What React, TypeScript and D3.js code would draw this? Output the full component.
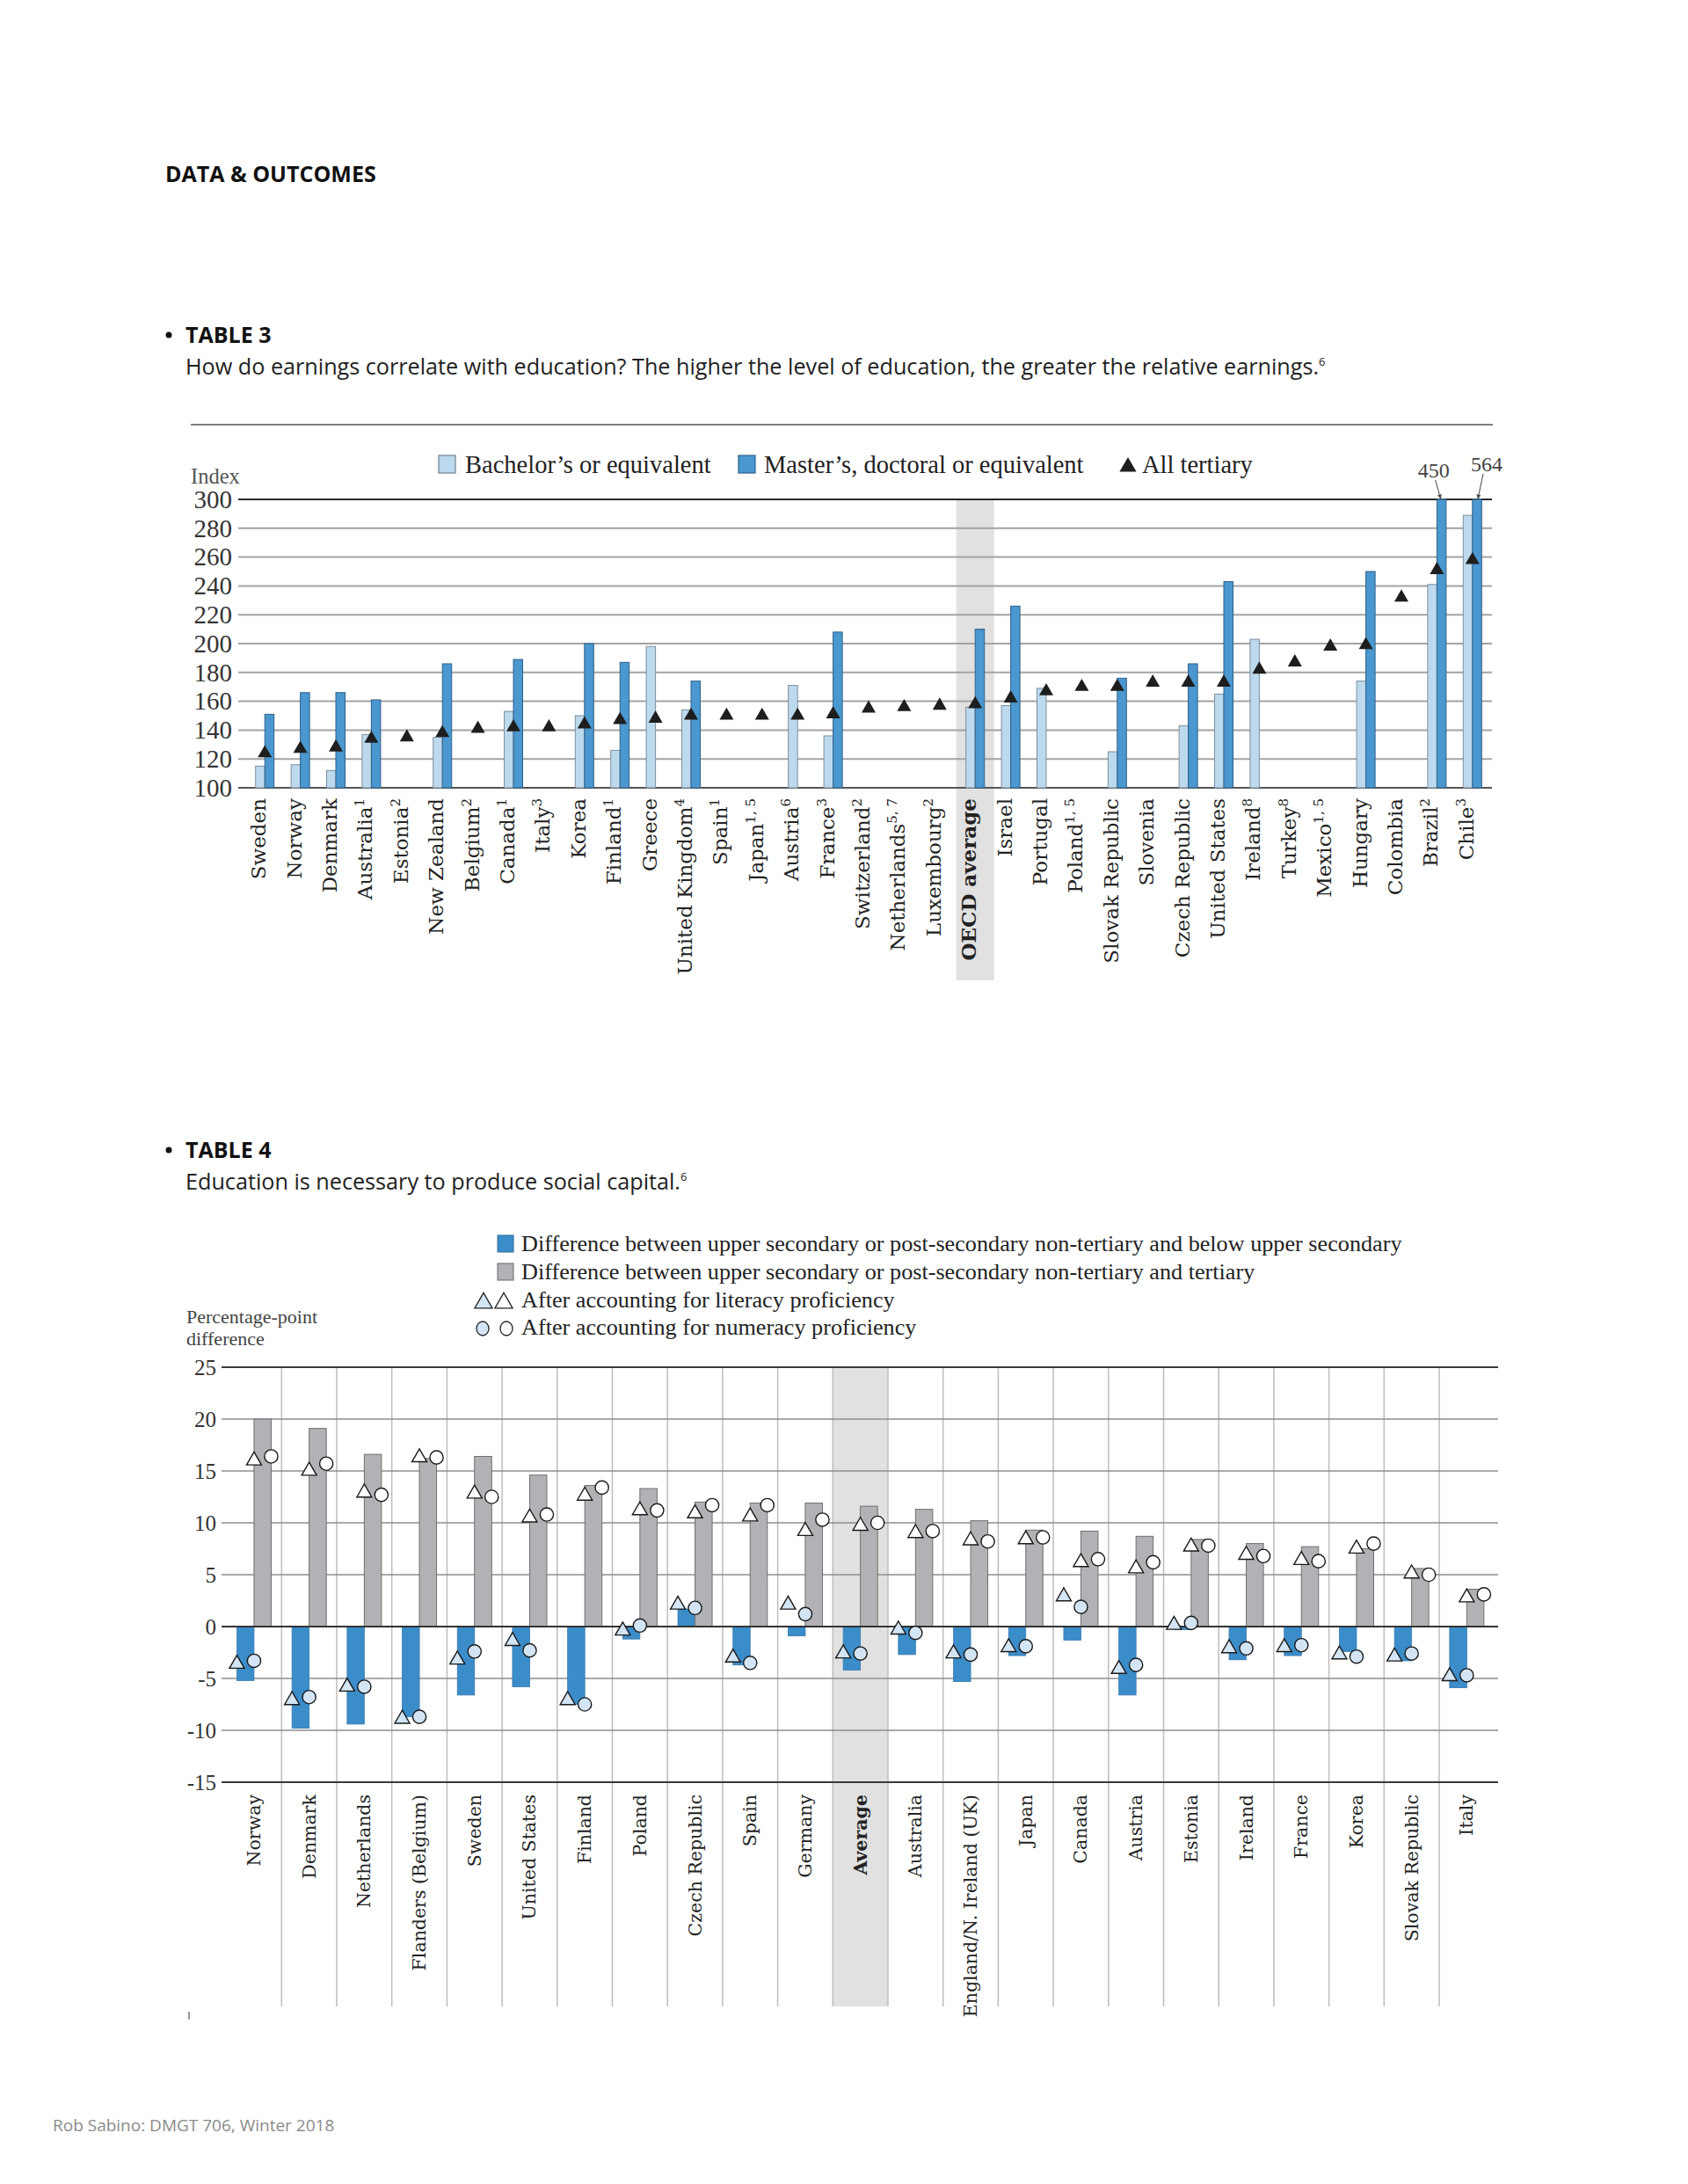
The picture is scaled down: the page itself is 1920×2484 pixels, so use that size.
import * as d3 from "d3";

// ---- Table 3: relative earnings by education level (index, upper secondary = 100)
const T3_COUNTRIES = [
  "Sweden", "Norway", "Denmark", "Australia", "Estonia", "New Zealand", "Belgium",
  "Canada", "Italy", "Korea", "Finland", "Greece", "United Kingdom", "Spain", "Japan",
  "Austria", "France", "Switzerland", "Netherlands", "Luxembourg", "OECD average",
  "Israel", "Portugal", "Poland", "Slovak Republic", "Slovenia", "Czech Republic",
  "United States", "Ireland", "Turkey", "Mexico", "Hungary", "Colombia", "Brazil", "Chile",
];
const T3_NOTES = [
  "", "", "", "1", "2", "", "2", "1", "3", "", "1", "", "4", "1", "1, 5", "6", "3", "2",
  "5, 7", "2", "", "", "", "1, 5", "", "", "", "", "8", "8", "1, 5", "", "", "2", "3",
];
const T3_BACHELOR = [
  115, 116, 112, 137, null, 135, null, 153, null, 150, 126, 198, 154, null, null, 171,
  136, null, null, null, 156, 157, 169, null, 125, null, 143, 165, 203, null, null, 174,
  null, 241, 289,
];
const T3_MASTER = [
  151, 166, 166, 161, null, 186, null, 189, null, 200, 187, null, 174, null, null, null,
  208, null, null, null, 210, 226, null, null, 176, null, 186, 243, null, null, null, 250,
  null, 450, 564,
];
const T3_ALL = [
  124, 127, 128, 134, 135, 138, 141, 142, 142, 144, 147, 148, 150, 150, 150, 150, 151,
  155, 156, 157, 158, 162, 167, 170, 170, 173, 173, 173, 182, 187, 198, 199, 232, 251, 258,
];
const T3_HIGHLIGHT = "OECD average";

// ---- Table 4: percentage-point differences in social outcomes
const T4_COUNTRIES = [
  "Norway", "Denmark", "Netherlands", "Flanders (Belgium)", "Sweden", "United States",
  "Finland", "Poland", "Czech Republic", "Spain", "Germany", "Average", "Australia",
  "England/N. Ireland (UK)", "Japan", "Canada", "Austria", "Estonia", "Ireland", "France",
  "Korea", "Slovak Republic", "Italy",
];
const T4_BELOW = [
  -5.2, -9.8, -9.4, -8.7, -6.6, -5.8, -7.5, -1.2, 1.7, -3.7, -0.9, -4.2, -2.7, -5.3, -2.8,
  -1.3, -6.6, -0.3, -3.2, -2.8, -2.4, -3.3, -5.9,
];
const T4_TERTIARY = [
  20.0, 19.1, 16.6, 16.2, 16.4, 14.6, 13.6, 13.3, 12.0, 11.9, 11.9, 11.6, 11.3, 10.2, 9.3,
  9.2, 8.7, 8.4, 8.0, 7.7, 7.5, 5.6, 3.6,
];
const T4_BELOW_LIT = [
  -3.6, -7.1, -5.8, -8.9, -3.2, -1.4, -7.1, -0.4, 2.1, -3.0, 2.1, -2.6, -0.3, -2.6, -2.0,
  2.9, -4.1, 0.15, -2.1, -2.0, -2.7, -2.9, -4.8,
];
const T4_BELOW_NUM = [
  -3.3, -6.8, -5.8, -8.7, -2.4, -2.3, -7.5, 0.1, 1.8, -3.5, 1.2, -2.6, -0.6, -2.7, -1.9,
  1.9, -3.7, 0.35, -2.1, -1.8, -2.9, -2.6, -4.7,
];
const T4_TERT_LIT = [
  16.0, 15.0, 12.9, 16.3, 12.8, 10.5, 12.6, 11.2, 10.9, 10.6, 9.2, 9.7, 9.0, 8.3, 8.4, 6.2,
  5.6, 7.7, 6.9, 6.4, 7.5, 5.1, 2.8,
];
const T4_TERT_NUM = [
  16.4, 15.7, 12.7, 16.3, 12.5, 10.8, 13.4, 11.2, 11.7, 11.7, 10.3, 10.0, 9.2, 8.2, 8.6, 6.5,
  6.2, 7.8, 6.8, 6.3, 8.0, 5.0, 3.1,
];
const T4_HIGHLIGHT = "Average";

const SANS = "'Open Sans', 'Noto Sans', sans-serif";
const SERIF = "'Liberation Serif', serif";
const LABEL_SERIF = "'DejaVu Serif', serif";

const BACH = "#bdd9ee";
const MAST = "#4b97cf";
const BLUE4 = "#3b8dca";
const GRAY4 = "#b2b2b6";
const MARK_LIGHT = "#d3e5f4";

function Heading({ y, label, sub }: { y: number; label: string; sub: string }) {
  return (
    <g>
      <circle cx={192} cy={y - 9} r={3.5} fill="#111" />
      <text x={211} y={y} fontFamily={SANS} fontWeight={700} fontSize={25} fill="#111">
        {label}
      </text>
      <text x={211} y={y + 36} fontFamily={SANS} fontSize={25.2} fill="#222">
        {sub}
        <tspan fontSize={13} dy={-10}>6</tspan>
      </text>
    </g>
  );
}

function Table3() {
  const x = d3
    .scaleBand<string>()
    .domain(T3_COUNTRIES)
    .range([281, 1695]);
  const y = d3.scaleLinear().domain([100, 300]).range([896, 568]);
  const cx = (c: string) => (x(c) ?? 0) + x.bandwidth() / 2;
  const bw = 10.5;
  const ticks = d3.range(100, 301, 20);
  const tri = d3.symbol(d3.symbolTriangle, 111)() ?? "";
  const legendTri = d3.symbol(d3.symbolTriangle, 160)() ?? "";
  const top = y.domain()[1];
  const capped = (v: number) => Math.min(v, top);

  return (
    <g>
      <line x1={217} x2={1698} y1={483} y2={483} stroke="#555" strokeWidth={1.5} />

      {/* legend */}
      <g fontFamily={SERIF} fontSize={28.5} fill="#222">
        <rect x={499} y={518} width={19} height={20} fill={BACH} stroke="#6f8192" strokeWidth={1.2} />
        <text x={529} y={538}>Bachelor’s or equivalent</text>
        <rect x={840} y={518} width={19} height={20} fill={MAST} stroke="#2f6189" strokeWidth={1.2} />
        <text x={869} y={538}>Master’s, doctoral or equivalent</text>
        <path d={legendTri} transform="translate(1283,531)" fill="#1e1e1e" />
        <text x={1299} y={538}>All tertiary</text>
      </g>

      <text x={217} y={550} fontFamily={SERIF} fontSize={24.5} fill="#555">Index</text>

      <rect
        x={cx(T3_HIGHLIGHT) - 21.5}
        y={y(300)}
        width={43}
        height={1115 - y(300)}
        fill="#e1e1e1"
      />

      {ticks.map((t) => (
        <g key={t}>
          <line
            x1={271}
            x2={1697}
            y1={y(t)}
            y2={y(t)}
            stroke={t === 300 ? "#2a2a2a" : t === 100 ? "#555" : "#a3a3a3"}
            strokeWidth={2}
          />
          <text
            x={264}
            y={y(t)}
            dy="0.34em"
            textAnchor="end"
            fontFamily={SERIF}
            fontSize={29}
            fill="#333"
          >
            {t}
          </text>
        </g>
      ))}

      {T3_COUNTRIES.map((c, i) => {
        const b = T3_BACHELOR[i];
        const m = T3_MASTER[i];
        return (
          <g key={c}>
            {b != null && (
              <rect
                x={cx(c) - bw}
                y={y(capped(b))}
                width={bw}
                height={y(100) - y(capped(b))}
                fill={BACH}
                stroke="#7e8e9c"
                strokeWidth={1}
              />
            )}
            {m != null && (
              <rect
                x={cx(c)}
                y={y(capped(m))}
                width={bw}
                height={y(100) - y(capped(m))}
                fill={MAST}
                stroke="#2f6189"
                strokeWidth={1}
              />
            )}
          </g>
        );
      })}

      {T3_COUNTRIES.map((c, i) => (
        <path
          key={c}
          d={tri}
          transform={`translate(${cx(c)},${y(T3_ALL[i])})`}
          fill="#1e1e1e"
        />
      ))}

      {/* values beyond the axis */}
      <defs>
        <marker id="arr" viewBox="0 0 10 10" refX={9} refY={5} markerWidth={5} markerHeight={5} orient="auto">
          <path d="M0,0 L10,5 L0,10 z" fill="#444" />
        </marker>
      </defs>
      {T3_COUNTRIES.map((c, i) => {
        const m = T3_MASTER[i];
        if (m == null || m <= top) return null;
        const bx = cx(c) + bw / 2;
        const tx = c === "Chile" ? bx + 11 : bx - 9;
        return (
          <g key={c}>
            <text
              x={tx}
              y={c === "Chile" ? 536 : 543}
              textAnchor="middle"
              fontFamily={SERIF}
              fontSize={24}
              fill="#444"
            >
              {m}
            </text>
            <line
              x1={c === "Chile" ? tx - 4 : tx + 2}
              y1={c === "Chile" ? 539 : 546}
              x2={bx + (c === "Chile" ? 1 : -1)}
              y2={y(top) - 1}
              stroke="#444"
              strokeWidth={1}
              markerEnd="url(#arr)"
            />
          </g>
        );
      })}

      {T3_COUNTRIES.map((c, i) => {
        const bold = c === T3_HIGHLIGHT;
        return (
          <text
            key={c}
            transform={`translate(${cx(c) + 1},908) rotate(-90)`}
            textAnchor="end"
            fontFamily={LABEL_SERIF}
            fontWeight={bold ? 700 : 400}
            fontSize={23}
            fill="#222"
          >
            {c}
            {T3_NOTES[i] && (
              <tspan fontSize={15} dy={-9}>
                {T3_NOTES[i]}
              </tspan>
            )}
          </text>
        );
      })}
    </g>
  );
}

function Table4() {
  const x = d3
    .scaleBand<string>()
    .domain(T4_COUNTRIES)
    .range([257.6, 1699.7]);
  const y = d3.scaleLinear().domain([-15, 25]).range([2027, 1555]);
  const cx = (c: string) => (x(c) ?? 0) + x.bandwidth() / 2;
  const bw = 19.5;
  const ticks = d3.range(-15, 26, 5);
  const tri = d3.symbol(d3.symbolTriangle, 125)() ?? "";
  const legendTri = d3.symbol(d3.symbolTriangle, 175)() ?? "";
  const bottom = 2282;
  const bar = (v: number) => ({ y: Math.min(y(v), y(0)), h: Math.abs(y(v) - y(0)) });

  return (
    <g>
      {/* legend */}
      <g fontFamily={SERIF} fontSize={26.2} fill="#222">
        <rect x={566} y={1405} width={18} height={19} fill={BLUE4} stroke="#2c6a99" strokeWidth={1} />
        <text x={593} y={1423}>
          Difference between upper secondary or post-secondary non-tertiary and below upper secondary
        </text>
        <rect x={566} y={1437} width={18} height={19} fill={GRAY4} stroke="#666" strokeWidth={1} />
        <text x={593} y={1455}>
          Difference between upper secondary or post-secondary non-tertiary and tertiary
        </text>
        <path d={legendTri} transform="translate(550,1482)" fill={MARK_LIGHT} stroke="#222" strokeWidth={1.3} />
        <path d={legendTri} transform="translate(573,1482)" fill="#fff" stroke="#222" strokeWidth={1.3} />
        <text x={593} y={1487}>After accounting for literacy proficiency</text>
        <ellipse cx={549} cy={1511} rx={7} ry={8} fill={MARK_LIGHT} stroke="#222" strokeWidth={1.3} />
        <ellipse cx={576} cy={1511} rx={7} ry={8} fill="#fff" stroke="#222" strokeWidth={1.3} />
        <text x={593} y={1518}>After accounting for numeracy proficiency</text>
      </g>

      <g fontFamily={SERIF} fontSize={22} fill="#444">
        <text x={212} y={1505}>Percentage-point</text>
        <text x={212} y={1530}>difference</text>
      </g>

      <rect
        x={x(T4_HIGHLIGHT) ?? 0}
        y={y(25)}
        width={x.bandwidth()}
        height={bottom - y(25)}
        fill="#e1e1e1"
      />

      {T4_COUNTRIES.slice(1).map((c) => (
        <line
          key={c}
          x1={x(c) ?? 0}
          x2={x(c) ?? 0}
          y1={y(25)}
          y2={bottom}
          stroke="#bdbdbd"
          strokeWidth={1.5}
        />
      ))}

      {ticks.map((t) => (
        <g key={t}>
          <line
            x1={252}
            x2={1704}
            y1={y(t)}
            y2={y(t)}
            stroke={t === 25 || t === -15 ? "#3a3a3a" : t === 0 ? "#333" : "#8e8e8e"}
            strokeWidth={t === 25 || t === -15 || t === 0 ? 2 : 1.5}
          />
          <text
            x={246}
            y={y(t)}
            dy="0.34em"
            textAnchor="end"
            fontFamily={SERIF}
            fontSize={25}
            fill="#333"
          >
            {t}
          </text>
        </g>
      ))}

      {T4_COUNTRIES.map((c, i) => {
        const b = bar(T4_BELOW[i]);
        const g = bar(T4_TERTIARY[i]);
        return (
          <g key={c}>
            <rect x={cx(c) - bw} y={b.y} width={bw} height={b.h} fill={BLUE4} stroke="#3479ad" strokeWidth={0.8} />
            <rect x={cx(c)} y={g.y} width={bw} height={g.h} fill={GRAY4} stroke="#6e6e6e" strokeWidth={1} />
          </g>
        );
      })}

      <line x1={252} x2={1704} y1={y(0)} y2={y(0)} stroke="#333" strokeWidth={2} />

      {T4_COUNTRIES.map((c, i) => (
        <g key={c} stroke="#1a1a1a" strokeWidth={1.4}>
          <path d={tri} transform={`translate(${cx(c) - bw},${y(T4_BELOW_LIT[i])})`} fill={MARK_LIGHT} />
          <path d={tri} transform={`translate(${cx(c)},${y(T4_TERT_LIT[i])})`} fill="#fff" />
          <circle cx={cx(c)} cy={y(T4_BELOW_NUM[i])} r={7.6} fill={MARK_LIGHT} />
          <circle cx={cx(c) + bw} cy={y(T4_TERT_NUM[i])} r={7.6} fill="#fff" />
        </g>
      ))}

      {T4_COUNTRIES.map((c) => (
        <text
          key={c}
          transform={`translate(${cx(c) + 7},2041) rotate(-90)`}
          textAnchor="end"
          fontFamily={LABEL_SERIF}
          fontWeight={c === T4_HIGHLIGHT ? 700 : 400}
          fontSize={20.5}
          fill="#222"
        >
          {c}
        </text>
      ))}

      <line x1={215} x2={215} y1={2288} y2={2297} stroke="#555" strokeWidth={1.2} />
    </g>
  );
}

export default function App() {
  return (
    <div style={{ position: "absolute", left: 0, top: 0, width: 1920, height: 2484, background: "#fff" }}>
      <svg width={1920} height={2484} style={{ display: "block" }}>
        <rect width={1920} height={2484} fill="#fff" />
        <text x={188} y={207} fontFamily={SANS} fontWeight={700} fontSize={25} fill="#111">
          DATA &amp; OUTCOMES
        </text>

        <Heading
          y={390}
          label="TABLE 3"
          sub="How do earnings correlate with education? The higher the level of education, the greater the relative earnings."
        />
        <Table3 />

        <Heading y={1317} label="TABLE 4" sub="Education is necessary to produce social capital." />
        <Table4 />

        <text x={60} y={2424} fontFamily={SANS} fontSize={19} fill="#8a8a8a">
          Rob Sabino: DMGT 706, Winter 2018
        </text>
      </svg>
    </div>
  );
}
